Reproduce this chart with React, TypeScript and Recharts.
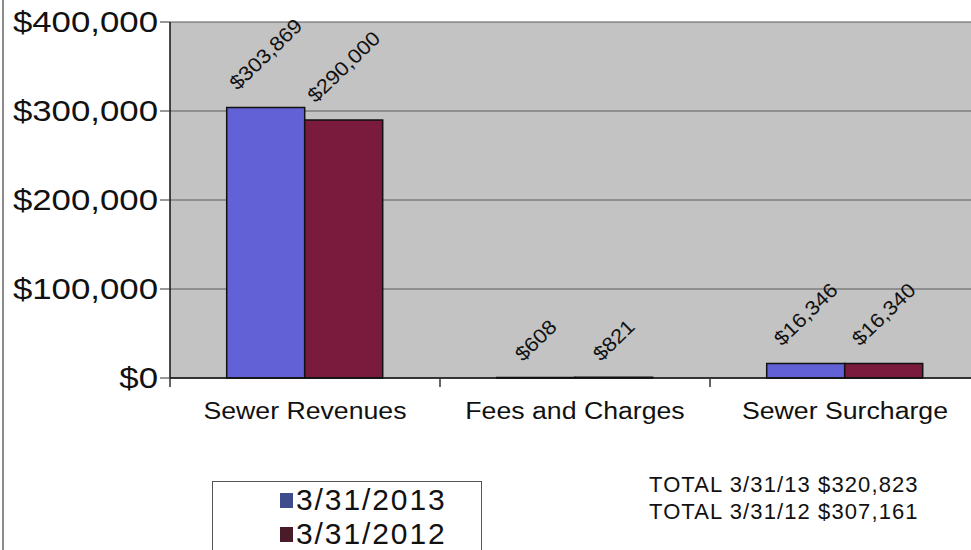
import { BarChart, Bar, XAxis, YAxis, CartesianGrid, LabelList } from "recharts";

const categories = ["Sewer Revenues", "Fees and Charges", "Sewer Surcharge"];
const values2013 = [303869, 608, 16346];
const values2012 = [290000, 821, 16340];
const yTicks = [0, 100000, 200000, 300000, 400000];
const seriesNames = ["3/31/2013", "3/31/2012"];
const totalLines = ["TOTAL 3/31/13 $320,823", "TOTAL 3/31/12 $307,161"];

const FONT = "'Liberation Sans', Arial, sans-serif";
const BLUE = "#6262d6";
const RED = "#7a1a3c";
const LEGEND_COLORS = ["#3e4c8c", "#4a1c2a"];

const data = categories.map((category, i) => ({
  category,
  v2013: values2013[i],
  v2012: values2012[i],
}));

const money = (v: number) => "$" + v.toLocaleString("en-US");

const ValueTick = (props: any) => {
  const { x, y, payload } = props;
  return (
    <text
      transform={`translate(${x},${y}) scale(1.2,1)`}
      textAnchor="end"
      dy="0.36em"
      fontSize={29}
      fontFamily={FONT}
      fill="#111"
    >
      {money(payload.value)}
    </text>
  );
};

// category label plus the small tick marks on the band edges
const CategoryTick = (props: any) => {
  const { x, y, payload, index, visibleTicksCount } = props;
  const half = payload.offset || 0;
  const isLast = index === visibleTicksCount - 1;
  return (
    <g>
      <line x1={x - half} x2={x - half} y1={y} y2={y + 9} stroke="#333" strokeWidth={1.5} />
      {isLast && <line x1={x + half} x2={x + half} y1={y} y2={y + 9} stroke="#333" strokeWidth={1.5} />}
      <text
        transform={`translate(${x},${y + 41}) scale(1.16,1)`}
        textAnchor="middle"
        fontSize={23}
        fontFamily={FONT}
        fill="#111"
      >
        {payload.value}
      </text>
    </g>
  );
};

// rotated value label, centred over the bar
const BarValue = (props: any) => {
  const { x, y, width, value } = props;
  const text = money(value);
  const fs = 20;
  const ang = 44;
  const len = text.length * 0.53 * fs * 1.1;
  const cx = x + width / 2;
  const cy = y - 21 - (len / 2) * Math.sin((ang * Math.PI) / 180);
  return (
    <text
      transform={`translate(${cx},${cy}) rotate(-${ang}) scale(1.1,1)`}
      textAnchor="middle"
      dy="0.35em"
      fontSize={fs}
      fontFamily={FONT}
      fill="#111"
    >
      {text}
    </text>
  );
};

export default function App() {
  return (
    <div
      style={{
        position: "fixed",
        left: 0,
        top: 0,
        width: 971,
        height: 550,
        overflow: "hidden",
        background: "#fff",
        fontFamily: FONT,
      }}
    >
      <div style={{ position: "absolute", left: 2, top: 0, bottom: 0, width: 2, background: "#8c8c8c" }} />
      <BarChart
        width={981}
        height={550}
        data={data}
        margin={{ top: 22, right: 1, left: 0, bottom: 132 }}
        barCategoryGap="21%"
        barGap={0}
      >
        <CartesianGrid vertical={false} stroke="#5a5a5a" fill="#c3c3c3" fillOpacity={1} />
        <XAxis
          dataKey="category"
          interval={0}
          tickLine={false}
          tickSize={0}
          tickMargin={0}
          axisLine={{ stroke: "#111", strokeWidth: 1.5 }}
          height={40}
          tick={<CategoryTick />}
        />
        <YAxis
          domain={[0, 400000]}
          ticks={yTicks}
          width={170}
          tickSize={10}
          axisLine={{ stroke: "#111", strokeWidth: 1.5 }}
          tickLine={{ stroke: "#333" }}
          tick={<ValueTick />}
        />
        <Bar dataKey="v2013" fill={BLUE} stroke="#111" strokeWidth={1.5} isAnimationActive={false}>
          <LabelList dataKey="v2013" content={<BarValue />} />
        </Bar>
        <Bar dataKey="v2012" fill={RED} stroke="#111" strokeWidth={1.5} isAnimationActive={false}>
          <LabelList dataKey="v2012" content={<BarValue />} />
        </Bar>
      </BarChart>

      <div
        style={{
          position: "absolute",
          left: 212,
          top: 481,
          width: 270,
          height: 90,
          border: "1px solid #555",
          boxSizing: "border-box",
          paddingTop: 1,
          paddingLeft: 67,
        }}
      >
        {seriesNames.map((name, i) => (
          <div key={name} style={{ display: "flex", alignItems: "center", height: 34 }}>
            <span
              style={{
                display: "inline-block",
                width: 13,
                height: 15,
                background: LEGEND_COLORS[i],
                marginRight: 3,
              }}
            />
            <span style={{ fontSize: 30, letterSpacing: 1.9, color: "#111", lineHeight: "34px" }}>{name}</span>
          </div>
        ))}
      </div>

      <div style={{ position: "absolute", left: 649, top: 471 }}>
        {totalLines.map((line) => (
          <div key={line} style={{ fontSize: 22, letterSpacing: 1.1, lineHeight: "27px", color: "#111" }}>
            {line}
          </div>
        ))}
      </div>
    </div>
  );
}
